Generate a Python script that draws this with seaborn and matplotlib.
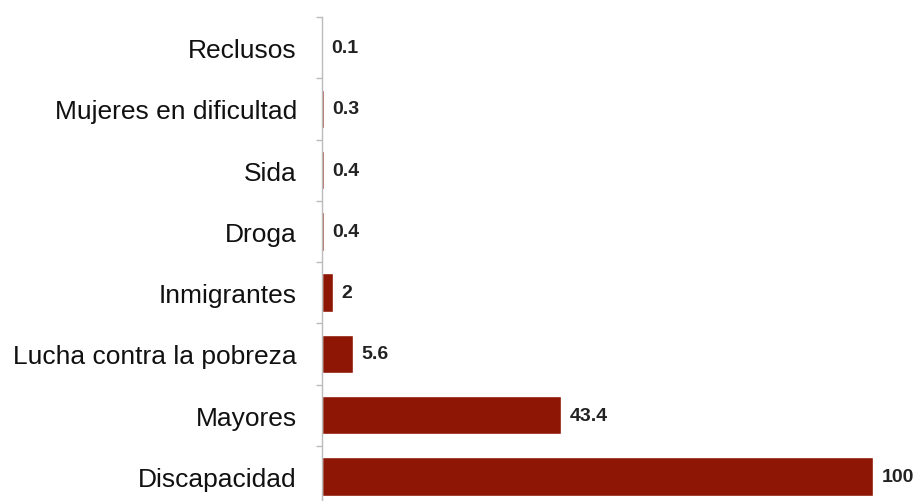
import pandas as pd
import seaborn as sns
import matplotlib.pyplot as plt

# categories top to bottom and their values
categories = ['Reclusos', 'Mujeres en dificultad', 'Sida', 'Droga', 'Inmigrantes',
              'Lucha contra la pobreza', 'Mayores', 'Discapacidad']
values = [0.1, 0.3, 0.4, 0.4, 2, 5.6, 43.4, 100]
value_labels = ['0.1', '0.3', '0.4', '0.4', '2', '5.6', '43.4', '100']

df = pd.DataFrame({'category': categories, 'value': values})

sns.set_style('white')
plt.rcParams['font.family'] = ['Liberation Sans', 'DejaVu Sans']

fig = plt.figure(figsize=(9.17, 5.02), dpi=100)
ax = fig.add_axes([322 / 917, -6 / 502, (873 - 322) / 917, 490 / 502])

sns.barplot(x='value', y='category', data=df, order=categories, orient='h',
            color='#8e1605', saturation=1, width=0.63, ax=ax)
ax.set_xlim(0, 100)
ax.set_ylim(len(categories) - 0.5, -0.5)

ax.bar_label(ax.containers[0], labels=value_labels, padding=6,
             fontsize=14, fontweight='bold', color='#222222', clip_on=False)

for s in ['top', 'right', 'bottom']:
    ax.spines[s].set_visible(False)
ax.spines['left'].set_color('#bbbbbb')
ax.spines['left'].set_linewidth(1)

ax.set_xticks([])
ax.set_yticks(range(len(categories)))
ax.set_yticklabels(categories, fontsize=19, color='#111111')
ax.tick_params(axis='y', which='major', length=0, pad=18)
ax.set_yticks([i - 0.5 for i in range(len(categories) + 1)], minor=True)
ax.tick_params(axis='y', which='minor', left=True, length=4, width=1,
               color='#bbbbbb', direction='out')
ax.set_xlabel('')
ax.set_ylabel('')

fig.savefig('out.png', dpi=100)
